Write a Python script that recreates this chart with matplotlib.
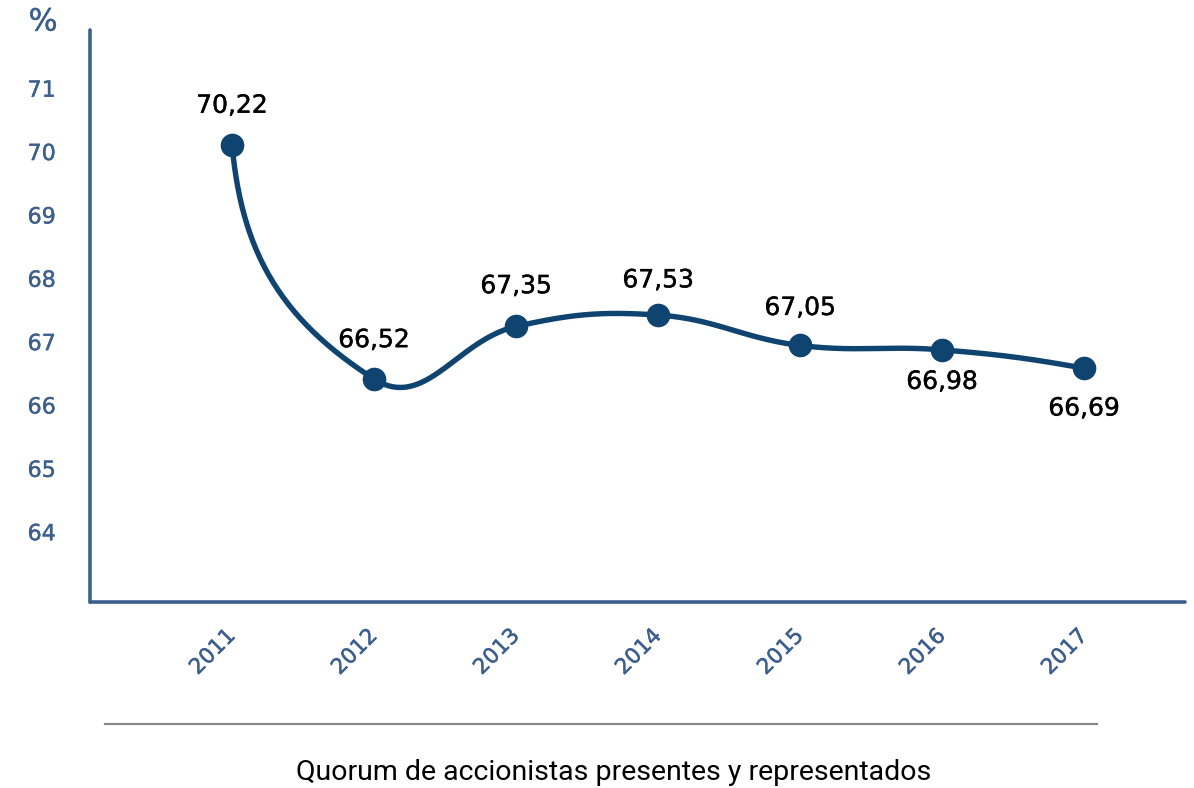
import matplotlib
matplotlib.use("Agg")
import matplotlib.pyplot as plt
import matplotlib.patheffects as pe
import matplotlib.transforms as mtransforms
from matplotlib.lines import Line2D
import numpy as np

# data
years = ["2011", "2012", "2013", "2014", "2015", "2016", "2017"]
quorum = [70.22, 66.52, 67.35, 67.53, 67.05, 66.98, 66.69]
value_labels = ["70,22", "66,52", "67,35", "67,53", "67,05", "66,98", "66,69"]
y_ticks = [64, 65, 66, 67, 68, 69, 70, 71]

# label offsets (points) above (+) or below (-) each marker
LABEL_DY = [28, 28, 29, 25, 27, -23, -29]

AXIS_COLOR = "#3d5f8e"
LINE_COLOR = "#0f4370"
FONT = ["DejaVu Sans"]
CAPTION_FONT = ["Roboto", "DejaVu Sans"]


def heavier(color, w=0.3):
    """Thin same-colour stroke so the text reads as a medium weight."""
    return [pe.withStroke(linewidth=w, foreground=color)]


def smooth_display_path(pts, arm=0.4, n_seg=60):
    """Bezier smoothing in display space (pts: (n, 2) pixels)."""
    pts = np.asarray(pts, float)
    n = len(pts)
    tang = np.zeros_like(pts)
    for i in range(1, n - 1):
        d = pts[i + 1] - pts[i - 1]
        tang[i] = d / np.hypot(*d)
    # endpoints: mirror the neighbour tangent about the chord
    for i, j in ((0, 1), (n - 1, n - 2)):
        c = pts[max(i, j)] - pts[min(i, j)]
        c = c / np.hypot(*c)
        tang[i] = 2 * np.dot(tang[j], c) * c - tang[j]

    tt = np.linspace(0, 1, n_seg)[:, None]
    out = []
    for i in range(n - 1):
        p1, p2 = pts[i], pts[i + 1]
        L = np.hypot(*(p2 - p1)) * arm
        c1 = p1 + tang[i] * L
        c2 = p2 - tang[i + 1] * L
        seg = ((1 - tt) ** 3) * p1 + 3 * ((1 - tt) ** 2) * tt * c1 \
            + 3 * (1 - tt) * tt ** 2 * c2 + tt ** 3 * p2
        out.append(seg if i == 0 else seg[1:])
    return np.vstack(out)


fig = plt.figure(figsize=(11.94, 7.88), dpi=100)
ax = fig.add_axes([0.0754, 0.236, 0.9171, 0.726])
ax.set_xlim(-1.0, 6.71)
ax.set_ylim(63.0, 72.03)

xs = np.arange(len(years))
disp = ax.transData.transform(np.column_stack([xs, quorum]))
curve = ax.transData.inverted().transform(smooth_display_path(disp))
ax.plot(curve[:, 0], curve[:, 1], color=LINE_COLOR, lw=3.9,
        solid_capstyle="round", zorder=2)
ax.plot(xs, quorum, "o", color=LINE_COLOR, ms=16, zorder=3)

for x, v, lab, dy in zip(xs, quorum, value_labels, LABEL_DY):
    ax.annotate(lab, (x, v), xytext=(0, dy), textcoords="offset points",
                ha="center", va="center", fontsize=18, color="black",
                family=FONT, path_effects=heavier("black"))

for side in ("top", "right"):
    ax.spines[side].set_visible(False)
for side in ("left", "bottom"):
    ax.spines[side].set_color(AXIS_COLOR)
    ax.spines[side].set_linewidth(2.6)
    ax.spines[side].set_capstyle("round")

ax.set_yticks(y_ticks)
ax.set_yticklabels([str(t) for t in y_ticks], family=FONT, fontsize=16,
                   color=AXIS_COLOR)
ax.tick_params(axis="y", length=0, pad=45)
# labels sit a little above their value in the reference
shift = mtransforms.ScaledTranslation(0, 0.065, fig.dpi_scale_trans)
for lab in ax.get_yticklabels():
    lab.set_transform(lab.get_transform() + shift)
    lab.set_horizontalalignment("left")
    lab.set_path_effects(heavier(AXIS_COLOR))

ax.set_xticks(xs)
ax.set_xticklabels(years, family=FONT, fontsize=15.5, color=AXIS_COLOR,
                   rotation=45, ha="right", va="center",
                   rotation_mode="anchor")
for lab in ax.get_xticklabels():
    lab.set_path_effects(heavier(AXIS_COLOR))
ax.tick_params(axis="x", length=0, pad=22)

fig.text(0.036, 0.972, "%", family=FONT, fontsize=22, color=AXIS_COLOR,
         ha="center", va="center", path_effects=heavier(AXIS_COLOR))

fig.add_artist(Line2D([105 / 1194, 1097 / 1194], [1 - 724 / 788, 1 - 724 / 788],
                      color="#8a8a8a", lw=1.6, transform=fig.transFigure))
fig.text(614 / 1194, 1 - 773 / 788, "Quorum de accionistas presentes y representados",
         family=CAPTION_FONT, fontsize=20.5, color="black", ha="center", va="center")

fig.savefig("out.png", dpi=100)
